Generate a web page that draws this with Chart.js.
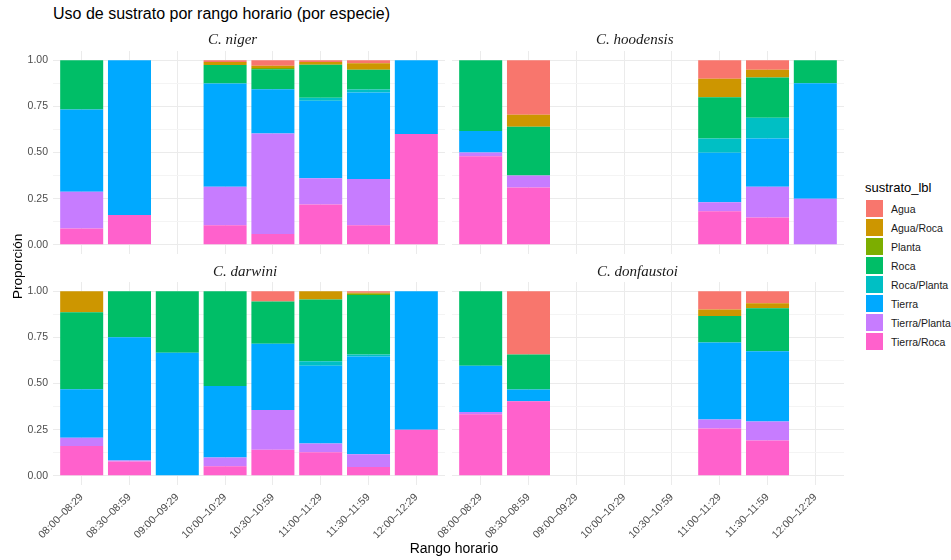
<!DOCTYPE html>
<html lang="es">
<head>
<meta charset="utf-8">
<script src="https://cdn.jsdelivr.net/npm/chart.js@4.4.1/dist/chart.umd.min.js"></script>
<style>
  body { margin: 0; width: 951px; height: 560px; background: #fff; position: relative; overflow: hidden;
         font-family: "Liberation Sans", Arial, sans-serif; }
  canvas { position: absolute; }
  .titulo { position: absolute; left: 53px; top: 5px; font-size: 16px; color: #000; white-space: nowrap; }
  .tira { position: absolute; font-family: "Liberation Serif", "DejaVu Serif", serif; white-space: nowrap;
          font-style: italic; font-size: 15px; color: #1a1a1a; z-index: 2; }
  .eje-y { position: absolute; left: 10px; top: 266px; width: 15px; height: 90px; margin-top: -45px;
           writing-mode: vertical-rl; transform: rotate(180deg); text-align: center; font-size: 13.5px; white-space: nowrap; }
  .eje-x { position: absolute; left: 454px; top: 548px; transform: translate(-50%, -50%); font-size: 14px; white-space: nowrap; }
  .leyenda { position: absolute; left: 865px; top: 180px; }
  .leyenda .tit { font-size: 13px; margin-bottom: 4px; }
  .leyenda .fila { display: flex; align-items: center; height: 19px; font-size: 10.5px; color: #1a1a1a; }
  .leyenda .caja { width: 17px; height: 17px; margin: 0 8px 0 1px; }
</style>
</head>
<body>
<div class="titulo">Uso de sustrato por rango horario (por especie)</div>

<canvas id="niger" width="445" height="223" style="left:0;top:41px"></canvas>
<canvas id="hoodensis" width="445" height="223" style="left:399px;top:41px"></canvas>
<canvas id="darwini" width="445" height="283" style="left:0;top:272px"></canvas>
<canvas id="donfaustoi" width="445" height="283" style="left:399px;top:272px"></canvas>

<div class="tira" style="left:208px;top:31px">C. niger</div>
<div class="tira" style="left:596px;top:31px">C. hoodensis</div>
<div class="tira" style="left:213px;top:263px">C. darwini</div>
<div class="tira" style="left:597px;top:263px">C. donfaustoi</div>

<div class="eje-y">Proporción</div>
<div class="eje-x">Rango horario</div>
<div class="leyenda" id="leyenda"><div class="tit">sustrato_lbl</div></div>

<script>
const horas = ["08:00–08:29", "08:30–08:59", "09:00–09:29", "10:00–10:29",
               "10:30–10:59", "11:00–11:29", "11:30–11:59", "12:00–12:29"];
const sustratos = ["Agua", "Agua/Roca", "Planta", "Roca", "Roca/Planta", "Tierra", "Tierra/Planta", "Tierra/Roca"];
const colores = ["#F8766D", "#CD9600", "#7CAE00", "#00BE67", "#00BFC4", "#00A9FF", "#C77CFF", "#FF61CC"];

// one row per sustrato (same order as above), one column per rango horario; null = sin registros
const niger = [
  [0, 0, null, 0.009, 0.030, 0.009, 0.016, 0],
  [0, 0, null, 0.017, 0.012, 0.016, 0.035, 0],
  [0, 0, null, 0, 0.007, 0, 0, 0],
  [0.267, 0, null, 0.100, 0.108, 0.179, 0.108, 0],
  [0, 0, null, 0, 0, 0.016, 0.016, 0],
  [0.446, 0.839, null, 0.560, 0.240, 0.419, 0.469, 0.400],
  [0.199, 0, null, 0.208, 0.545, 0.143, 0.250, 0],
  [0.088, 0.161, null, 0.106, 0.058, 0.218, 0.106, 0.600]
];
const hoodensis = [
  [0, 0.296, null, null, null, 0.101, 0.051, 0],
  [0, 0.065, null, null, null, 0.099, 0.043, 0],
  [0, 0, null, null, null, 0, 0, 0],
  [0.384, 0.264, null, null, null, 0.224, 0.218, 0.125],
  [0, 0, null, null, null, 0.078, 0.112, 0],
  [0.116, 0, null, null, null, 0.267, 0.262, 0.625],
  [0.020, 0.065, null, null, null, 0.049, 0.166, 0.250],
  [0.480, 0.310, null, null, null, 0.182, 0.148, 0]
];
const darwini = [
  [0, 0, 0, 0, 0.056, 0, 0.008, 0],
  [0.114, 0, 0, 0, 0, 0.045, 0.005, 0],
  [0, 0, 0, 0, 0, 0, 0.007, 0],
  [0.417, 0.250, 0.334, 0.513, 0.229, 0.334, 0.323, 0],
  [0, 0, 0, 0, 0, 0.025, 0.011, 0],
  [0.263, 0.667, 0.666, 0.388, 0.359, 0.421, 0.529, 0.750],
  [0.045, 0.005, 0, 0.047, 0.215, 0.047, 0.070, 0],
  [0.161, 0.078, 0, 0.052, 0.141, 0.128, 0.047, 0.250]
];
const donfaustoi = [
  [0, 0.343, null, null, null, 0.099, 0.065, null],
  [0, 0, null, null, null, 0.035, 0.027, null],
  [0, 0, null, null, null, 0, 0, null],
  [0.404, 0.189, null, null, null, 0.144, 0.233, null],
  [0, 0, null, null, null, 0, 0, null],
  [0.251, 0.064, null, null, null, 0.417, 0.381, null],
  [0.012, 0, null, null, null, 0.049, 0.103, null],
  [0.333, 0.404, null, null, null, 0.256, 0.191, null]
];

const yTicks = [0, 0.125, 0.25, 0.375, 0.5, 0.625, 0.75, 0.875, 1];
const tickFont = { family: "'Liberation Sans', Arial, sans-serif", size: 10.5 };

function facet(id, filas, conEjeX, conEjeY) {
  // first dataset sits at the bottom of the stack, so Tierra/Roca goes first
  const datasets = sustratos.map((s, k) => ({
    label: s,
    data: filas[k].map((v, i) => ({ x: i, y: v })),
    backgroundColor: colores[k],
    borderWidth: 0,
    stack: "total"
  })).reverse();

  new Chart(document.getElementById(id), {
    type: "bar",
    data: { datasets },
    options: {
      responsive: false,
      animation: false,
      layout: { padding: { top: 10, bottom: conEjeX ? 0 : 10, left: 0, right: 0 } },
      plugins: { legend: { display: false }, tooltip: { enabled: false } },
      datasets: { bar: { barPercentage: 0.9, categoryPercentage: 1 } },
      scales: {
        x: {
          type: "linear", min: -0.6, max: 7.6, offset: false,
          afterBuildTicks: s => { s.ticks = horas.map((h, i) => ({ value: i })); },
          // fixed box sizes so the four panels line up
          afterFit: s => { s.height = conEjeX ? 70 : 0; s.paddingLeft = 0; s.paddingRight = 0; },
          border: { display: false },
          grid: { color: "#ebebeb", drawTicks: false, offset: false },
          ticks: {
            display: conEjeX, autoSkip: false, minRotation: 45, maxRotation: 45, padding: 6,
            color: "#4d4d4d", font: tickFont, callback: v => horas[v]
          }
        },
        y: {
          stacked: true, min: -0.05, max: 1.05,
          afterBuildTicks: s => { s.ticks = yTicks.map(v => ({ value: v })); },
          afterFit: s => { s.width = 53; s.paddingTop = 0; s.paddingBottom = 0; },
          border: { display: false },
          grid: { color: c => (c.index % 2 ? "#f4f4f4" : "#ebebeb"), drawTicks: false },
          ticks: {
            display: conEjeY, autoSkip: false, padding: 5, color: "#4d4d4d", font: tickFont,
            callback: (v, i) => (i % 2 ? "" : v.toFixed(2))
          }
        }
      }
    }
  });
}

facet("niger", niger, false, true);
facet("hoodensis", hoodensis, false, false);
facet("darwini", darwini, true, true);
facet("donfaustoi", donfaustoi, true, false);

// legend keys
const leyenda = document.getElementById("leyenda");
sustratos.forEach((s, k) => {
  const fila = document.createElement("div");
  fila.className = "fila";
  fila.innerHTML = `<div class="caja" style="background:${colores[k]}"></div><span>${s}</span>`;
  leyenda.appendChild(fila);
});
</script>
</body>
</html>
